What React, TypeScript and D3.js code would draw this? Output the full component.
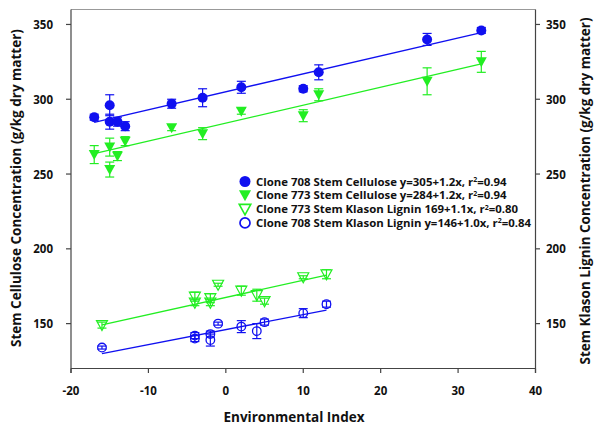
import React from "react";
import * as d3 from "d3";

// environmental index values for each point (same for both clones)
const cellX = [-17, -15, -15, -14, -13, -7, -3, 2, 10, 12, 26, 33];
const cell708 = [288, 296, 285, 285, 282, 297, 301, 308, 307, 318, 340, 346];
const cell708Err = [2, 7, 5, 3, 3, 3, 6, 4, 2, 5, 4, 2];
const cell773 = [263, 268, 253, 262, 272, 281, 277, 292, 289, 303, 312, 325];
const cell773Err = [6, 6, 5, 3, 3, 2, 4, 2, 4, 4, 9, 7];

const ligX = [-16, -4, -4, -2, -2, -1, 2, 4, 5, 10, 13];
const lig773 = [149, 168, 164, 167, 164, 176, 172, 169, 165, 181, 183];
const lig773Err = [2, 3, 2, 3, 2, 1, 3, 4, 2, 1, 3];
const lig708 = [134, 142, 140, 143, 139, 150, 148, 145, 151, 157, 163];
const lig708Err = [1, 2, 2, 2, 4, 1, 4, 5, 2, 3, 2];

// regression lines as drawn: [intercept, slope, xStart, xEnd]
const fit708Cell = [305, 1.2, -17, 33];
const fit773Cell = [284, 1.2, -17, 33];
const fit773Lig = [167.5, 1.15, -16, 13];
const fit708Lig = [146, 1.0, -16, 13];

const xTicks = [-20, -10, 0, 10, 20, 30, 40];
const yTicks = [150, 200, 250, 300, 350];

const legendLabels = [
  ["Clone 708 Stem Cellulose y=305+1.2x, r", "=0.94"],
  ["Clone 773 Stem Cellulose y=284+1.2x, r", "=0.94"],
  ["Clone 773 Stem Klason Lignin 169+1.1x, r", "=0.80"],
  ["Clone 708 Stem Klason Lignin y=146+1.0x, r", "=0.84"],
];

const BLUE = "#1010f0";
const GREEN = "#22ee22";
const AXIS = "#444";
const FONT = "'Open Sans', Lato, sans-serif";

export default function App() {
  const W = 600, H = 432;
  const left = 71, right = 535.5, top = 9.5, bottom = 368.5;

  const x = d3.scaleLinear().domain([-20, 40]).range([left, right]);
  const y = d3.scaleLinear().domain([120, 360]).range([bottom, top]);

  const fitLine = (f: number[], color: string) => (
    <line
      x1={x(f[2])} y1={y(f[0] + f[1] * f[2])}
      x2={x(f[3])} y2={y(f[0] + f[1] * f[3])}
      stroke={color} strokeWidth={1.3}
    />
  );

  const errBars = (xs: number[], ys: number[], es: number[], color: string) =>
    xs.map((v, i) => {
      const cx = x(v), y0 = y(ys[i] - es[i]), y1 = y(ys[i] + es[i]);
      return (
        <g key={"e" + i} stroke={color} strokeWidth={1.2}>
          <line x1={cx} x2={cx} y1={y0} y2={y1} />
          <line x1={cx - 4.5} x2={cx + 4.5} y1={y0} y2={y0} />
          <line x1={cx - 4.5} x2={cx + 4.5} y1={y1} y2={y1} />
        </g>
      );
    });

  const tri = (cx: number, cy: number, s = 1) =>
    `M${cx - 5.5 * s},${cy - 4.5 * s}L${cx + 5.5 * s},${cy - 4.5 * s}L${cx},${cy + 5.5 * s}Z`;

  const legX = 245, legY0 = 181.5, legStep = 13.8;

  return (
    <svg width={W} height={H} style={{ position: "absolute", left: 0, top: 0, background: "#fff" }}
      fontFamily={FONT} fontWeight="bold">
      {/* frame */}
      <line x1={left} x2={right} y1={top} y2={top} stroke="#999" strokeWidth={1} />
      <line x1={left} x2={left} y1={top} y2={bottom + 4.5} stroke={AXIS} strokeWidth={1.2} />
      <line x1={right} x2={right} y1={top} y2={bottom + 4.5} stroke={AXIS} strokeWidth={1.2} />
      <line x1={left} x2={right} y1={bottom} y2={bottom} stroke={AXIS} strokeWidth={1.2} />

      {/* x axis */}
      {xTicks.map((t) => (
        <g key={"xt" + t}>
          <line x1={x(t)} x2={x(t)} y1={bottom} y2={bottom + 4.5} stroke={AXIS} strokeWidth={1.2} />
          <text x={x(t)} y={395} textAnchor="middle" fontSize={11.5} fill="#111">{t}</text>
        </g>
      ))}
      {/* y axes */}
      {yTicks.map((t) => (
        <g key={"yt" + t}>
          <line x1={left - 5} x2={left} y1={y(t)} y2={y(t)} stroke={AXIS} strokeWidth={1.2} />
          <text x={53} y={y(t) + 4.5} textAnchor="end" fontSize={11.5} fill="#111">{t}</text>
          <line x1={right} x2={right + 4.5} y1={y(t)} y2={y(t)} stroke={AXIS} strokeWidth={1.2} />
          <text x={546} y={y(t) + 4.5} textAnchor="start" fontSize={11.5} fill="#111">{t}</text>
        </g>
      ))}

      <text transform={`translate(21,188) rotate(-90)`} textAnchor="middle" fontSize={13.5} fill="#111">
        Stem Cellulose Concentration (g/kg dry matter)
      </text>
      <text transform={`translate(590,191) rotate(-90)`} textAnchor="middle" fontSize={13.5} fill="#111">
        Stem Klason Lignin Concentration (g/kg dry matter)
      </text>
      <text x={294} y={422} textAnchor="middle" fontSize={13.5} fill="#111">Environmental Index</text>

      {/* regression lines */}
      {fitLine(fit708Cell, BLUE)}
      {fitLine(fit773Cell, GREEN)}
      {fitLine(fit773Lig, GREEN)}
      {fitLine(fit708Lig, BLUE)}

      {/* error bars */}
      {errBars(cellX, cell708, cell708Err, BLUE)}
      {errBars(cellX, cell773, cell773Err, GREEN)}
      {errBars(ligX, lig773, lig773Err, GREEN)}
      {errBars(ligX, lig708, lig708Err, BLUE)}

      {/* markers */}
      {cellX.map((v, i) => (
        <circle key={"c708" + i} cx={x(v)} cy={y(cell708[i])} r={5} fill={BLUE} />
      ))}
      {cellX.map((v, i) => (
        <path key={"c773" + i} d={tri(x(v), y(cell773[i]))} fill={GREEN} />
      ))}
      {ligX.map((v, i) => (
        <path key={"l773" + i} d={tri(x(v), y(lig773[i]))} fill="none" stroke={GREEN} strokeWidth={1.2} />
      ))}
      {ligX.map((v, i) => (
        <circle key={"l708" + i} cx={x(v)} cy={y(lig708[i])} r={4.3} fill="none" stroke={BLUE} strokeWidth={1.3} />
      ))}

      {/* legend */}
      <g>
        <circle cx={legX} cy={legY0} r={5.5} fill={BLUE} />
        <path d={tri(legX, legY0 + legStep, 1.1)} fill={GREEN} />
        <path d={tri(legX, legY0 + 2 * legStep, 1.05)} fill="none" stroke={GREEN} strokeWidth={1.6} />
        <circle cx={legX} cy={legY0 + 3 * legStep} r={5} fill="none" stroke={BLUE} strokeWidth={1.7} />
        {legendLabels.map((l, i) => (
          <text key={"lg" + i} x={256} y={legY0 + i * legStep + 4} fontSize={11.4} fill="#111">
            {l[0]}
            <tspan dy={-3.5} fontSize={7}>2</tspan>
            <tspan dy={3.5}>{l[1]}</tspan>
          </text>
        ))}
      </g>
    </svg>
  );
}
